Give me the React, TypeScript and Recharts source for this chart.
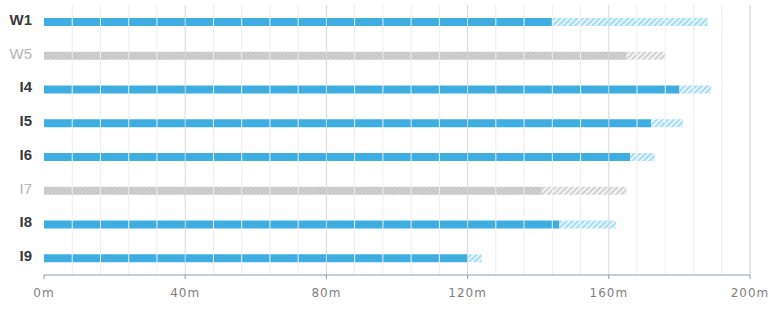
import { BarChart, Bar, XAxis, YAxis, ReferenceLine, Cell } from "recharts";

const categories = ["W1", "W5", "I4", "I5", "I6", "I7", "I8", "I9"];
const actual = [144, 165, 180, 172, 166, 141, 146, 120];
const target = [188, 176, 189, 181, 173, 165, 162, 124];
const inactive = ["W5", "I7"];
const majorTicks = [0, 40, 80, 120, 160, 200];
const minorTicks = [8, 16, 24, 32, 48, 56, 64, 72, 88, 96, 104, 112, 128, 136, 144, 152, 168, 176, 184, 192];

const data = categories.map((name, i) => ({
  name,
  actual: actual[i],
  extra: target[i] - actual[i],
}));

const BLUE = "#3eaee2";

function LabelTick(props: any) {
  const { x, y, payload } = props;
  const off = inactive.includes(payload.value);
  return (
    <text
      x={x}
      y={y}
      dx={-4}
      dy={-1}
      textAnchor="end"
      dominantBaseline="middle"
      fontFamily="'Liberation Sans', Arial, sans-serif"
      fontSize={15}
      fontWeight={off ? 400 : 700}
      fill={off ? "#b4b4b4" : "#3a3a3a"}
    >
      {payload.value}
    </text>
  );
}

export default function App() {
  return (
    <div style={{ position: "absolute", left: 0, top: 0, background: "#fff" }}>
      <BarChart
        width={782}
        height={313}
        data={data}
        layout="vertical"
        margin={{ top: 5, right: 32, left: 0, bottom: 0 }}
        barCategoryGap={0}
      >
        <defs>
          <pattern id="blueHatch" patternUnits="userSpaceOnUse" width="4" height="4" patternTransform="rotate(45)">
            <rect width="4" height="4" fill="#e6f5fc" />
            <rect width="2" height="4" fill="#a6dcf4" />
          </pattern>
          <pattern id="greyFill" patternUnits="userSpaceOnUse" width="3" height="3" patternTransform="rotate(45)">
            <rect width="3" height="3" fill="#d4d4d4" />
            <rect width="1.5" height="3" fill="#c2c2c2" />
          </pattern>
          <pattern id="greyHatch" patternUnits="userSpaceOnUse" width="4" height="4" patternTransform="rotate(45)">
            <rect width="4" height="4" fill="#f4f4f4" />
            <rect width="2" height="4" fill="#d2d2d2" />
          </pattern>
        </defs>
        <XAxis
          type="number"
          domain={[0, 200]}
          ticks={majorTicks}
          tickFormatter={(v) => `${v}m`}
          height={38}
          stroke="#8e9aa6"
          tickSize={4}
          tickMargin={9}
          tick={{ fill: "#808080", fontSize: 12, fontFamily: "'DejaVu Sans', sans-serif", letterSpacing: 1 }}
        />
        <YAxis
          type="category"
          dataKey="name"
          width={44}
          axisLine={false}
          tickLine={false}
          tick={<LabelTick />}
        />
        {minorTicks.map((v) => (
          <ReferenceLine key={"m" + v} x={v} stroke="#eeeeee" strokeWidth={1} />
        ))}
        {majorTicks.slice(1).map((v) => (
          <ReferenceLine key={"M" + v} x={v} stroke={v === 200 ? "#c8ccd6" : "#d6d8de"} strokeWidth={1} />
        ))}
        <Bar dataKey="actual" stackId="a" barSize={8} isAnimationActive={false}>
          {data.map((d) => (
            <Cell key={d.name} fill={inactive.includes(d.name) ? "url(#greyFill)" : BLUE} />
          ))}
        </Bar>
        <Bar dataKey="extra" stackId="a" barSize={8} isAnimationActive={false}>
          {data.map((d) => (
            <Cell key={d.name} fill={inactive.includes(d.name) ? "url(#greyHatch)" : "url(#blueHatch)"} />
          ))}
        </Bar>
      </BarChart>
    </div>
  );
}
